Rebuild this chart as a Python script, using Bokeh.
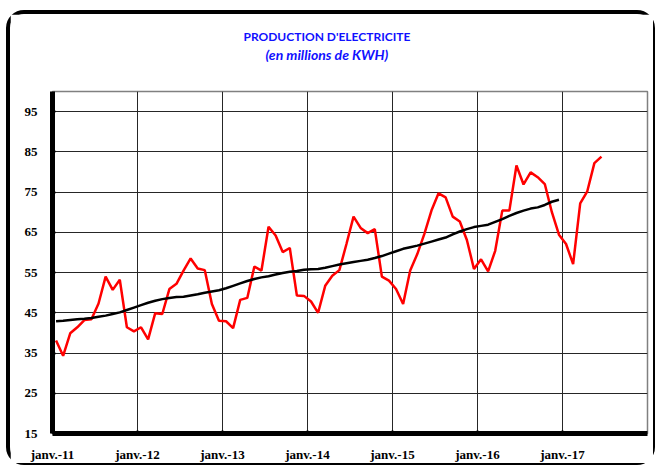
import numpy as np
from bokeh.plotting import figure
from bokeh.models import FixedTicker, Range1d, InlineStyleSheet, Title
from bokeh.embed import file_html
from bokeh.resources import INLINE

title_text = "PRODUCTION D'ELECTRICITE"
subtitle_text = "(en millions de KWH)"
year_labels = ["janv.-11", "janv.-12", "janv.-13", "janv.-14", "janv.-15", "janv.-16", "janv.-17"]
y_ticks = [15, 25, 35, 45, 55, 65, 75, 85, 95]

# monthly production, Jan 2011 - Jun 2017
production = [
    38.1, 34.3, 39.9, 41.4, 43.2, 43.4, 47.3, 54.0, 50.7, 53.2, 41.4, 40.4,
    41.4, 38.4, 44.9, 44.7, 50.9, 52.2, 55.5, 58.5, 56.0, 55.6, 47.2, 43.0,
    42.9, 41.2, 48.2, 48.7, 56.5, 55.5, 66.4, 64.2, 60.1, 61.1, 49.3, 49.2,
    47.8, 45.0, 51.7, 54.2, 55.6, 62.1, 68.9, 66.1, 64.8, 65.8, 54.0, 53.0,
    50.9, 47.2, 55.5, 59.6, 64.6, 70.4, 74.7, 73.7, 68.9, 67.7, 63.1, 55.9,
    58.3, 55.3, 60.4, 70.4, 70.4, 81.6, 76.9, 79.9, 78.7, 77.0, 70.0, 64.4,
    62.1, 57.1, 72.2, 75.2, 82.2, 83.8,
]

# trend, Jan 2011 - Dec 2016
trend = [
    42.9, 43.0, 43.2, 43.4, 43.5, 43.7, 44.0, 44.3, 44.7, 45.1, 45.7, 46.3,
    46.9, 47.5, 48.0, 48.4, 48.7, 48.9, 49.0, 49.3, 49.6, 50.0, 50.3, 50.6,
    51.1, 51.7, 52.3, 52.9, 53.4, 53.8, 54.1, 54.5, 54.9, 55.2, 55.4, 55.7,
    55.8, 55.9, 56.2, 56.6, 57.0, 57.3, 57.6, 57.9, 58.2, 58.6, 59.1, 59.7,
    60.3, 60.9, 61.3, 61.7, 62.2, 62.7, 63.2, 63.7, 64.5, 65.2, 65.8, 66.3,
    66.6, 66.9, 67.6, 68.3, 69.1, 69.8, 70.4, 70.9, 71.2, 71.8, 72.6, 73.1,
]

months_per_year = 12
x_prod = np.arange(len(production)) + 0.5
x_trend = np.arange(len(trend)) + 0.5
year_ticks = [i * months_per_year for i in range(len(year_labels))]
n_years_axis = len(year_labels) + 1
grid_ticks = [i * months_per_year for i in range(n_years_axis)]

p = figure(
    width=649, height=455,
    output_backend="svg", toolbar_location=None, title=None,
    x_range=Range1d(0, (n_years_axis - 1) * months_per_year),
    y_range=Range1d(15, 100),
    min_border_left=42, min_border_right=12, min_border_top=77, min_border_bottom=36,
)
p.stylesheets.append(InlineStyleSheet(css=(
    ":host { border-style: solid; border-color: black; border-width: 4px 2px 2px 4px;"
    " border-radius: 18px; margin-left: 6px; margin-top: 10px; }"
)))

p.outline_line_color = "#808080"
p.outline_line_width = 1.5

p.xgrid.ticker = FixedTicker(ticks=grid_ticks)
p.ygrid.ticker = FixedTicker(ticks=y_ticks)
for g in (p.xgrid, p.ygrid):
    g.grid_line_color = "#262626"
    g.grid_line_width = 1

for ax in (p.xaxis, p.yaxis):
    ax.axis_line_width = 5
    ax.axis_line_color = "black"
    ax.major_tick_in = 3
    ax.major_tick_out = 0
    ax.major_tick_line_width = 2
    ax.minor_tick_line_color = None
    ax.major_label_text_font = "Liberation Serif"
    ax.major_label_text_font_style = "bold"
    ax.major_label_text_font_size = "13px"
    ax.major_label_text_color = "black"

p.xaxis.ticker = FixedTicker(ticks=year_ticks)
p.xaxis.major_label_overrides = {t: lab for t, lab in zip(year_ticks, year_labels)}
p.xaxis.major_label_standoff = 13
p.yaxis.ticker = FixedTicker(ticks=y_ticks)
p.yaxis.major_label_standoff = 15

p.line(x_prod, production, line_color="#FF0000", line_width=2.5)
p.line(x_trend, trend, line_color="black", line_width=2.5)

p.add_layout(Title(text=" ", text_font_size="24px", standoff=0), "above")
p.add_layout(Title(text=subtitle_text, align="left", offset=213, standoff=0,
                   text_font="Lato", text_font_style="bold italic",
                   text_font_size="14px", text_color="#1010FF"), "above")
p.add_layout(Title(text=title_text, align="left", offset=191, standoff=0,
                   text_font="Lato", text_font_style="bold",
                   text_font_size="12px", text_color="#1010FF"), "above")

open("out.html", "w").write(file_html(p, INLINE))
